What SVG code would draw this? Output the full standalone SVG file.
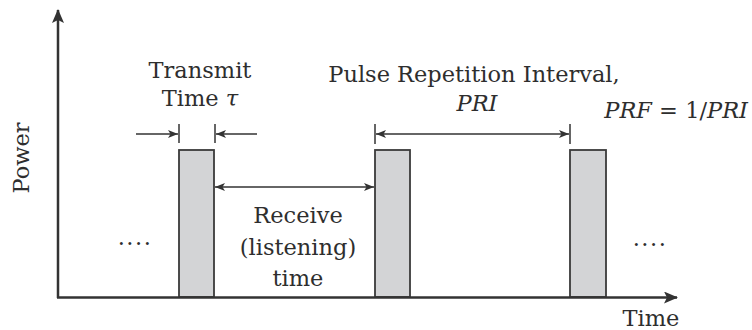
<svg xmlns="http://www.w3.org/2000/svg" width="752" height="330" viewBox="0 0 752 330">
<style>
text{font-family:"DejaVu Serif","Liberation Serif",serif;font-size:22.5px;fill:#2e2e2e;}
.it{font-style:italic;}
.ax{stroke:#333;stroke-width:2.5;fill:none;}
.pulse{fill:#d3d4d6;stroke:#3a3a3a;stroke-width:1.8;}
.dim{stroke:#333;stroke-width:1.5;fill:none;}
.tick{stroke:#333;stroke-width:1.5;}
.dots{letter-spacing:1.5px;}
</style>
<defs>
<marker id="ah" viewBox="0 0 10 8" refX="10" refY="4" markerWidth="10" markerHeight="8" markerUnits="userSpaceOnUse" orient="auto-start-reverse">
<path d="M0,0 L10,4 L0,8 L2.5,4 Z" fill="#333"/>
</marker>
<marker id="axh" viewBox="0 0 14 12" refX="13" refY="6" markerWidth="14" markerHeight="12" markerUnits="userSpaceOnUse" orient="auto">
<path d="M0,0 L14,6 L0,12 L3,6 Z" fill="#333"/>
</marker>
</defs>
<g id="pulse1"><rect class="pulse" x="179" y="150" width="35" height="147"/></g>
<g id="pulse2"><rect class="pulse" x="375" y="150" width="35" height="147"/></g>
<g id="pulse3"><rect class="pulse" x="570" y="150" width="36" height="147"/></g>
<g id="axes">
<line class="ax" x1="58" y1="298" x2="58" y2="10" marker-end="url(#axh)"/>
<line class="ax" x1="57" y1="297.5" x2="677" y2="297.5" marker-end="url(#axh)"/>
</g>
<g id="connectors">
<line class="tick" x1="179" y1="124" x2="179" y2="143"/>
<line class="tick" x1="215" y1="124" x2="215" y2="143"/>
<line class="dim" x1="136" y1="134" x2="178" y2="134" marker-end="url(#ah)"/>
<line class="dim" x1="257" y1="134" x2="216" y2="134" marker-end="url(#ah)"/>
<line class="tick" x1="375" y1="124" x2="375" y2="144"/>
<line class="tick" x1="570" y1="124" x2="570" y2="144"/>
<line class="dim" x1="376" y1="134" x2="569" y2="134" marker-start="url(#ah)" marker-end="url(#ah)"/>
<line class="dim" x1="215" y1="187" x2="374" y2="187" marker-start="url(#ah)" marker-end="url(#ah)"/>
</g>
<g id="labels">
<text x="200" y="78" text-anchor="middle">Transmit</text>
<text x="200" y="106" text-anchor="middle">Time <tspan class="it">τ</tspan></text>
<text x="474" y="82" text-anchor="middle">Pulse Repetition Interval,</text>
<text x="477" y="111" text-anchor="middle" class="it">PRI</text>
<text x="748" y="118" text-anchor="end"><tspan class="it">PRF</tspan> = 1/<tspan class="it">PRI</tspan></text>
<text x="298" y="223" text-anchor="middle">Receive</text>
<text x="298" y="255" text-anchor="middle">(listening)</text>
<text x="298" y="286" text-anchor="middle">time</text>
<text x="135" y="245" text-anchor="middle" class="dots">....</text>
<text x="650" y="246" text-anchor="middle" class="dots">....</text>
<text x="29" y="158" text-anchor="middle" transform="rotate(-90 29 158)">Power</text>
<text x="651" y="326" text-anchor="middle">Time</text>
</g>
</svg>
